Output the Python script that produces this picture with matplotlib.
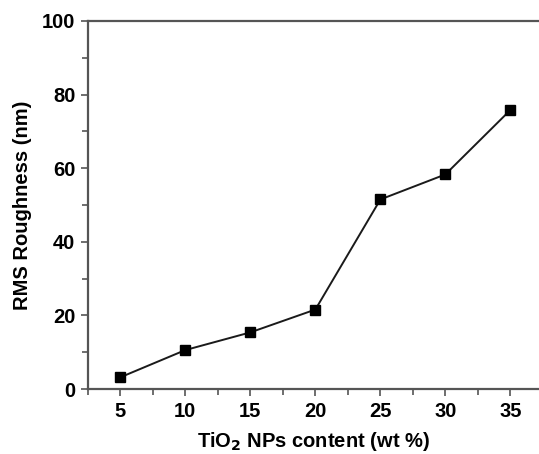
import matplotlib
matplotlib.use("Agg")
import matplotlib.pyplot as plt
from matplotlib.ticker import MultipleLocator

content_wt = [5, 10, 15, 20, 25, 30, 35]
rms_nm = [3.2, 10.6, 15.4, 21.6, 51.5, 58.3, 75.8]

plt.rcParams["font.family"] = ["Liberation Sans", "DejaVu Sans"]
plt.rcParams["font.weight"] = "bold"

fig = plt.figure(figsize=(5.39, 4.54), dpi=100)
ax = fig.add_axes([0.163, 0.143, 0.837, 0.811])

ax.plot(content_wt, rms_nm, color="#1a1a1a", linewidth=1.4,
        marker="s", markersize=7, markerfacecolor="black", markeredgecolor="black")

ax.set_xlim(2.5, 37.2)
ax.set_ylim(0, 100)
ax.xaxis.set_major_locator(MultipleLocator(5))
ax.xaxis.set_minor_locator(MultipleLocator(2.5))
ax.yaxis.set_major_locator(MultipleLocator(20))
ax.yaxis.set_minor_locator(MultipleLocator(10))

ax.spines["right"].set_visible(False)
for side in ("left", "top", "bottom"):
    ax.spines[side].set_color("#555555")
    ax.spines[side].set_linewidth(1.6)

ax.tick_params(which="both", direction="out", color="#555555", width=1.2,
               top=False, right=False)
ax.tick_params(which="major", length=5, labelsize=14.5, pad=4)
ax.tick_params(which="minor", length=4)
for lab in ax.get_xticklabels() + ax.get_yticklabels():
    lab.set_fontweight("bold")

ax.set_xlabel("TiO$_\\mathbf{2}$ NPs content (wt %)", fontsize=14.5, fontweight="bold", labelpad=7)
ax.set_ylabel("RMS Roughness (nm)", fontsize=14.5, fontweight="bold", labelpad=7)

fig.savefig("out.png", dpi=100)
